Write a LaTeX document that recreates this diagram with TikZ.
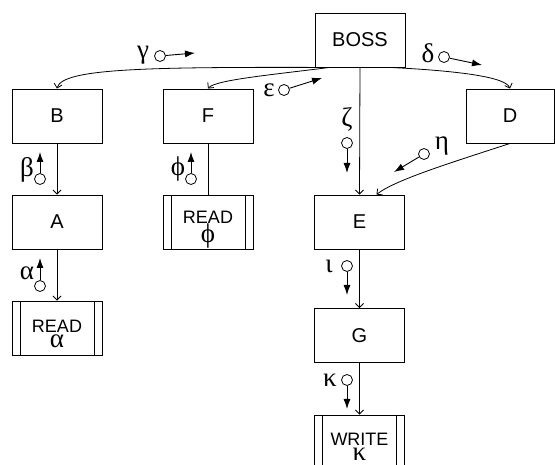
\documentclass[tikz,border=0pt]{standalone}
\usepackage{fontspec}
\setmainfont{Liberation Sans}
\newfontfamily\grkfont{Liberation Serif}
\usetikzlibrary{arrows.meta}
\tikzset{
  module/.style={draw,line width=0.9pt,minimum width=90pt,minimum height=54pt,inner sep=0pt,font=\fontsize{20}{20}\selectfont},
  lib/.style={module,align=center,font=\fontsize{18}{15}\selectfont,
    path picture={\draw[line width=0.9pt]
      ([xshift=8pt]path picture bounding box.north west)--([xshift=8pt]path picture bounding box.south west)
      ([xshift=-8pt]path picture bounding box.north east)--([xshift=-8pt]path picture bounding box.south east);}},
  couple/.style={circle,draw,line width=0.8pt,minimum size=11pt,inner sep=0pt},
  flow/.style={line width=0.9pt,-{Latex[length=10pt,width=7pt]}},
  call/.style={line width=0.8pt,-{Straight Barb[length=4pt,width=8pt]}},
  grk/.style={font=\grkfont\fontsize{27}{27}\selectfont,inner sep=0pt}
}
\begin{document}
\begin{tikzpicture}[x=1pt,y=-1pt]
  \path[use as bounding box,clip](0,0)rectangle(555,465);
  % modules
  \node[module](boss)at(360,40){BOSS};
  \node[module](b)at(57,116){B};
  \node[module](f)at(208,116){F};
  \node[module,minimum width=88pt](d)at(510,116){D};
  \node[module](a)at(57,222){A};
  \node[lib](rf)at(208,222){\rule{0pt}{28pt}READ\\{\grkfont\fontsize{27}{15}\selectfont ϕ}};
  \node[lib](ra)at(57,328){\rule{0pt}{25pt}READ\\{\grkfont\fontsize{27}{15}\selectfont α}};
  \node[module](e)at(359.5,222){E};
  \node[module](g)at(359.5,335.5){G};
  \node[lib](w)at(359.5,442){\rule{0pt}{22pt}WRITE\\{\grkfont\fontsize{27}{15}\selectfont κ}};
  % calls
  \draw[call]([xshift=15pt]boss.south west)..controls(150,67)and(62,68)..(b.north);
  \draw[call]([xshift=15pt]boss.south west)..controls(270,75)and(215,80)..(f.north);
  \draw[call]([xshift=-15pt]boss.south east)..controls(440,70)and(505,75)..(d.north);
  \draw[call](boss.south)--(e.north);
  \draw[call](d.south)..controls(450,163)and(395,180)..([xshift=17pt]e.north);
  \draw[call](b)--(a);
  \draw[line width=0.8pt](f)--(rf);
  \draw[call](a)--(ra);
  \draw[call](e)--(g);
  \draw[call](g)--(w);
  % couples
  \node[couple](cg)at(160,56){};  \draw[flow](cg)--(195,53);  \node[grk](lg)at(143,55){γ};
  \node[couple](ce)at(284,90){};  \draw[flow](ce)--(322,78);  \node[grk](le)at(269,90){ε};
  \node[couple](cd)at(444,57){};  \draw[flow](cd)--(482,65);  \node[grk](ld)at(428,53){δ};
  \node[couple](cz)at(347,143){}; \draw[flow](cz)--(347,173); \node[grk](lz)at(347,119){ζ};
  \node[couple](ch)at(424,154){}; \draw[flow](ch)--(394,172); \node[grk](lh)at(442,146){η};
  \node[couple](cb)at(40,179){};  \draw[flow](cb)--(40,152);  \node[grk](lb)at(27,170){β};
  \node[couple](cf)at(191,179){}; \draw[flow](cf)--(191,152); \node[grk](lf)at(178,169){ϕ};
  \node[couple](ca)at(40,286){};  \draw[flow](ca)--(40,258);  \node[grk](la)at(27,273){α};
  \node[couple](ci)at(347,266){}; \draw[flow](ci)--(347,295); \node[grk](li)at(329,266){ι};
  \node[couple](ck)at(347,380){}; \draw[flow](ck)--(347,409); \node[grk](lk)at(330,380){κ};
\end{tikzpicture}
\end{document}
